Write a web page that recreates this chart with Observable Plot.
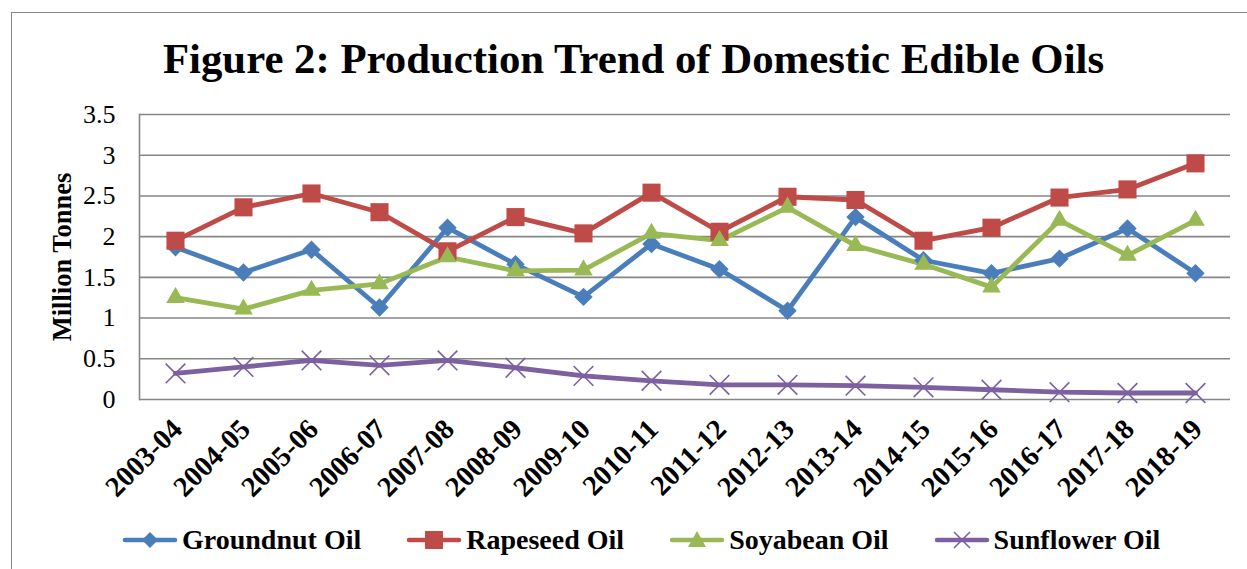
<!DOCTYPE html>
<html><head><meta charset="utf-8">
<script src="https://cdn.jsdelivr.net/npm/d3@7"></script>
<script src="https://cdn.jsdelivr.net/npm/@observablehq/plot@0.6"></script>
<style>
body{margin:0;overflow:hidden;background:#fff;}
#wrap{position:relative;width:1247px;height:569px;overflow:hidden;font-family:"Liberation Serif","Times New Roman",serif;color:#000;}
#border{position:absolute;left:11px;top:12px;width:1300px;height:600px;border-left:1.5px solid #868686;border-top:1.5px solid #868686;}
#title{position:absolute;left:10px;width:1247px;top:37px;line-height:43px;text-align:center;font-weight:bold;font-size:42.8px;white-space:nowrap;}
#chart{position:absolute;left:0;top:0;}
#legend{position:absolute;left:122px;top:525px;display:flex;gap:45px;align-items:center;font-weight:bold;font-size:28px;line-height:30px;white-space:nowrap;}
.item{display:flex;align-items:center;gap:4px;}
</style>
</head><body>
<div id="wrap">
  <div id="border"></div>
  <div id="title">Figure 2: Production Trend of Domestic Edible Oils</div>
  <div id="chart"></div>
  <div id="legend"></div>
</div>
<script>
const years = ["2003-04","2004-05","2005-06","2006-07","2007-08","2008-09","2009-10","2010-11","2011-12","2012-13","2013-14","2014-15","2015-16","2016-17","2017-18","2018-19"];
const groundnut = [1.87,1.56,1.84,1.13,2.11,1.66,1.26,1.91,1.60,1.09,2.24,1.71,1.55,1.73,2.10,1.55];
const rapeseed  = [1.95,2.36,2.53,2.30,1.82,2.24,2.04,2.54,2.06,2.49,2.45,1.95,2.11,2.48,2.58,2.90];
const soyabean  = [1.25,1.11,1.34,1.42,1.75,1.58,1.59,2.04,1.95,2.36,1.89,1.66,1.38,2.20,1.77,2.20];
const sunflower = [0.32,0.40,0.48,0.42,0.48,0.39,0.29,0.23,0.18,0.18,0.17,0.15,0.12,0.09,0.08,0.08];
const seriesNames = ["Groundnut Oil","Rapeseed Oil","Soyabean Oil","Sunflower Oil"];
const yTicks = [0,0.5,1,1.5,2,2.5,3,3.5];
const yLabel = "Million Tonnes";

const colors = ["#4A7EBB","#BE4B48","#98B954","#7D60A0"];
const seriesValues = [groundnut, rapeseed, soyabean, sunflower];
const data = [];
seriesNames.forEach((s, i) => seriesValues[i].forEach((v, j) => data.push({year: years[j], value: v, series: s})));
const only = s => d => d.series === s;
const serif = "Liberation Serif, Times New Roman, serif";

const chart = Plot.plot({
  width: 1247, height: 569,
  marginTop: 114, marginBottom: 170, marginLeft: 139, marginRight: 17,
  style: {fontFamily: serif, background: "transparent", overflow: "visible", color: "#000"},
  x: {type: "point", domain: years, padding: 0.5, label: null},
  y: {domain: [0, 3.5], label: null},
  marks: [
    Plot.gridY(yTicks, {stroke: "#868686", strokeOpacity: 1, strokeWidth: 1.6}),
    Plot.frame({anchor: "left", stroke: "#868686", strokeWidth: 1.6}),
    Plot.axisY(yTicks, {tickSize: 0, tickPadding: 24, fontSize: 26, fontFamily: serif, tickFormat: d => String(d), label: null}),
    Plot.axisX({tickSize: 0, tickRotate: -45, textAnchor: "end", lineAnchor: "middle", fontSize: 28.5, fontFamily: serif, fontWeight: "bold", tickPadding: 25, dx: 2, label: null}),
    Plot.text([yLabel], {frameAnchor: "left", rotate: -90, textAnchor: "middle", dx: -77, fontSize: 26.5, fontFamily: serif, fontWeight: "bold", fill: "#000"}),
    Plot.line(data, {x: "year", y: "value", z: "series", stroke: d => colors[seriesNames.indexOf(d.series)], strokeWidth: 4.8, strokeLinejoin: "round"}),
    Plot.dot(data, {filter: only(seriesNames[0]), x: "year", y: "value", symbol: "diamond2", r: 8.3, fill: colors[0], stroke: "none"}),
    Plot.dot(data, {filter: only(seriesNames[1]), x: "year", y: "value", symbol: "square", r: 10.2, fill: colors[1], stroke: "none"}),
    Plot.dot(data, {filter: only(seriesNames[2]), x: "year", y: "value", symbol: "triangle", r: 6.9, fill: colors[2], stroke: "none"}),
    Plot.dot(data, {filter: only(seriesNames[3]), x: "year", y: "value", symbol: "times", r: 9, fill: "none", stroke: colors[3], strokeWidth: 1.6})
  ]
});
document.getElementById("chart").appendChild(chart);

// legend
const markerSvg = [
  c => `<path d="M28,4 L36,12 L28,20 L20,12 Z" fill="${c}"/>`,
  c => `<rect x="19" y="3" width="18" height="18" fill="${c}"/>`,
  c => `<path d="M28,3 L37,19 L19,19 Z" fill="${c}"/>`,
  c => `<path d="M20,4 L36,20 M36,4 L20,20" stroke="${c}" stroke-width="1.6" fill="none"/>`
];
const legend = document.getElementById("legend");
seriesNames.forEach((s, i) => {
  const item = document.createElement("div");
  item.className = "item";
  item.innerHTML = `<svg width="56" height="24" viewBox="0 0 56 24"><line x1="3" y1="12" x2="53" y2="12" stroke="${colors[i]}" stroke-width="4.5" stroke-linecap="round"/>${markerSvg[i](colors[i])}</svg><span>${s}</span>`;
  legend.appendChild(item);
});
</script>
</body></html>
